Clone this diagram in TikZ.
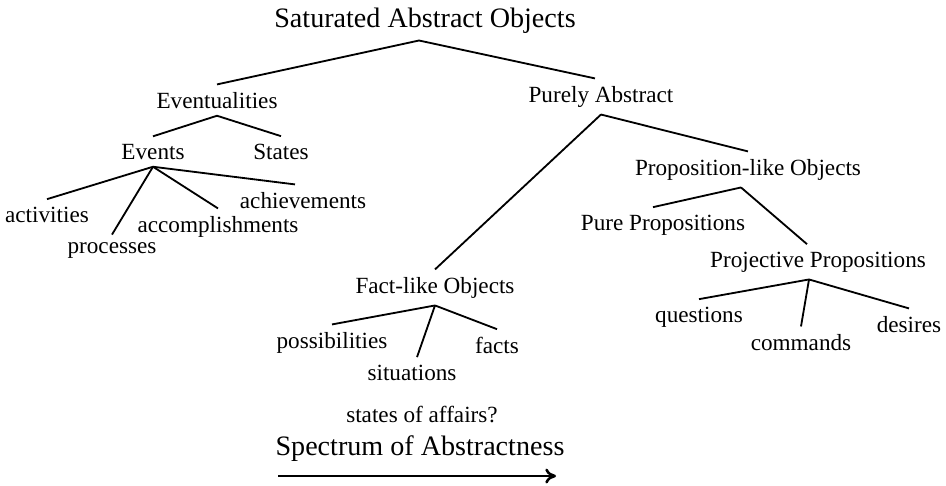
\documentclass[tikz,border=0pt]{standalone}
\usepackage{fontspec}
\setmainfont{Liberation Serif}
\usepackage{tikz}
\usetikzlibrary{arrows.meta,calc}

\begin{document}
\begin{tikzpicture}[
  x=0.466pt, y=-0.466pt,
  term/.style={anchor=base, inner sep=3.3pt, font=\fontsize{10.8}{13}\selectfont},
  bigterm/.style={anchor=base, inner sep=3.3pt, font=\fontsize{13.1}{15}\selectfont},
  branch/.style={line width=0.85pt},
  arr/.style={-{To[length=5pt, width=7pt]}, line width=1.2pt}
]
\useasboundingbox (0,0) rectangle (946,485);

\node[bigterm] (root) at (425,27) {Saturated Abstract Objects};

\node[term] (event) at (217,108) {Eventualities};
\node[term] (purely) at (601,102) {Purely Abstract};

\draw[branch] ($(root.south)+(-6,0)$) -- (event.north);
\draw[branch] ($(root.south)+(-6,0)$) -- ($(purely.north)+(-6,0)$);

\node[term] (events) at (153,159) {Events};
\node[term] (states) at (281,159) {States};

\draw[branch] (event.south) -- (events.north);
\draw[branch] (event.south) -- (states.north);

\node[term] (activ) at (47,222) {activities};
\node[term] (proc) at (112,253) {processes};
\node[term] (accomp) at (218,232) {accomplishments};
\node[term] (achiev) at (303,208) {achievements};

\draw[branch] (events.south) -- (activ.north);
\draw[branch] (events.south) -- (proc.north);
\draw[branch] (events.south) -- (accomp.north);
\draw[branch] (events.south) -- ($(achiev.north)+(-8,0)$);

\node[term] (factlike) at (435,293) {Fact-like Objects};
\node[term] (proplike) at (748,175) {Proposition-like Objects};

\draw[branch] (purely.south) -- (factlike.north);
\draw[branch] (purely.south) -- (proplike.north);

\node[term] (possib) at (332,348) {possibilities};
\node[term] (situat) at (412,380) {situations};
\node[term] (facts) at (497,353) {facts};

\draw[branch] (factlike.south) -- (possib.north);
\draw[branch] (factlike.south) -- ($(situat.north)+(5,0)$);
\draw[branch] (factlike.south) -- (facts.north);

\node[term] (pureprop) at (663,230) {Pure Propositions};
\node[term] (projprop) at (818,267) {Projective Propositions};

\draw[branch] ($(proplike.south)+(-7,0)$) -- ($(pureprop.north)+(-10,0)$);
\draw[branch] ($(proplike.south)+(-7,0)$) -- ($(projprop.north)+(-11,0)$);

\node[term] (quest) at (699,322) {questions};
\node[term] (command) at (801,350) {commands};
\node[term] (desire) at (909,332) {desires};

\draw[branch] ($(projprop.south)+(-9,0)$) -- (quest.north);
\draw[branch] ($(projprop.south)+(-9,0)$) -- (command.north);
\draw[branch] ($(projprop.south)+(-9,0)$) -- (desire.north);

\node[term] (soa) at (422,422) {states of affairs?};
\node[bigterm] (spectrum) at (420,455) {Spectrum of Abstractness};

\coordinate (from) at (278,476);
\coordinate (to) at (556,476);
\draw[arr] (from) -- (to);

\end{tikzpicture}
\end{document}
